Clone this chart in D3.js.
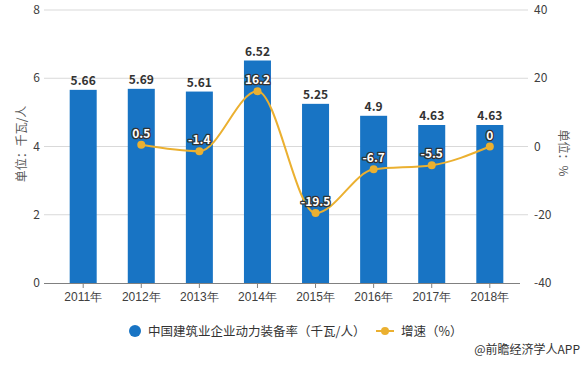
<!DOCTYPE html>
<html><head><meta charset="utf-8">
<script src="https://cdn.jsdelivr.net/npm/d3@7"></script>
<style>body{margin:0;background:#fff;}svg{display:block;font-family:"Microsoft YaHei","Noto Sans CJK SC","Noto Sans",sans-serif;}</style>
</head><body>
<script>
const categories = ["2011年","2012年","2013年","2014年","2015年","2016年","2017年","2018年"];
const rateValues = [5.66,5.69,5.61,6.52,5.25,4.9,4.63,4.63];
const growthValues = [null,0.5,-1.4,16.2,-19.5,-6.7,-5.5,0];
const leftTicks = [0,2,4,6,8];
const rightTicks = [-40,-20,0,20,40];
const seriesNames = ["中国建筑业企业动力装备率（千瓦/人）","增速（%）"];

const W=585,H=366;
const barColor="#1874C4", lineColor="#EBB030";
const svg=d3.select("body").append("svg").attr("width",W).attr("height",H);
const x=d3.scaleBand().domain(categories).range([54,519]).paddingInner(0.535).paddingOuter(0.27);
const xc=d=>x(d)+x.bandwidth()/2;
const yL=d3.scaleLinear().domain([0,8]).range([283,10]);
const yR=d3.scaleLinear().domain([-40,40]).range([283,10]);

// grid
svg.append("g").selectAll("line").data(leftTicks.slice(1)).join("line")
  .attr("x1",44).attr("x2",528).attr("y1",d=>yL(d)).attr("y2",d=>yL(d))
  .attr("stroke","#d9d9d9").attr("stroke-width",1);
// axis labels
svg.append("g").selectAll("text").data(leftTicks).join("text")
  .attr("x",40).attr("y",d=>yL(d)+4).attr("text-anchor","end")
  .attr("font-size",12).attr("fill","#404040").text(d=>d);
svg.append("g").selectAll("text").data(rightTicks).join("text")
  .attr("x",534).attr("y",d=>yR(d)+4).attr("text-anchor","start")
  .attr("font-size",12).attr("fill","#404040").text(d=>d);
// axis titles
svg.append("text").attr("transform","translate(26,144) rotate(-90)").attr("text-anchor","middle")
  .attr("font-size",12).attr("fill","#595959").text("单位：千瓦/人");
svg.append("text").attr("transform","translate(559,153) rotate(90)").attr("text-anchor","middle")
  .attr("font-size",12).attr("fill","#595959").text("单位：%");

// bars
svg.append("g").selectAll("rect").data(rateValues).join("rect")
  .attr("x",(d,i)=>x(categories[i])).attr("width",x.bandwidth())
  .attr("y",d=>yL(d)).attr("height",d=>yL(0)-yL(d)).attr("fill",barColor);

// x axis
const xa=svg.append("g").attr("transform","translate(0,283)")
  .call(d3.axisBottom(x).tickSize(5).tickPadding(4));
xa.select(".domain").attr("d","M44,0.5H520").attr("stroke","#808080");
xa.selectAll(".tick line").attr("stroke","#808080");
xa.selectAll(".tick text").attr("font-size",12).attr("fill","#404040").attr("font-family","inherit");

// bar labels
svg.append("g").selectAll("text").data(rateValues).join("text")
  .attr("x",(d,i)=>xc(categories[i])).attr("y",d=>yL(d)-5).attr("text-anchor","middle")
  .attr("font-size",12).attr("font-weight","bold").attr("fill","#333").text(d=>d);

// line
const pts=growthValues.map((v,i)=>({c:categories[i],v})).filter(p=>p.v!==null);
svg.append("path").datum(pts)
  .attr("d",d3.line().x(p=>xc(p.c)).y(p=>yR(p.v)).curve(d3.curveMonotoneX))
  .attr("fill","none").attr("stroke",lineColor).attr("stroke-width",2);
svg.append("g").selectAll("circle").data(pts).join("circle")
  .attr("cx",p=>xc(p.c)).attr("cy",p=>yR(p.v)).attr("r",4).attr("fill",lineColor);
svg.append("g").selectAll("text").data(pts).join("text")
  .attr("x",p=>xc(p.c)).attr("y",p=>yR(p.v)-7).attr("text-anchor","middle")
  .attr("font-size",12).attr("font-weight","bold").attr("fill","#fff")
  .attr("stroke","#333").attr("stroke-width",2.5).attr("paint-order","stroke").attr("stroke-linejoin","round")
  .text(p=>p.v);

// legend
svg.append("circle").attr("cx",135).attr("cy",331).attr("r",6).attr("fill",barColor);
svg.append("text").attr("x",148).attr("y",335.5).attr("font-size",12.5).attr("fill","#333").text(seriesNames[0]);
svg.append("line").attr("x1",376).attr("x2",394).attr("y1",331).attr("y2",331).attr("stroke",lineColor).attr("stroke-width",2);
svg.append("circle").attr("cx",385).attr("cy",331).attr("r",4).attr("fill",lineColor);
svg.append("text").attr("x",401).attr("y",335.5).attr("font-size",12.5).attr("fill","#333").text(seriesNames[1]);

// source
svg.append("text").attr("x",580).attr("y",354).attr("text-anchor","end")
  .attr("font-size",12).attr("fill","#333").text("@前瞻经济学人APP");
</script>
</body></html>
